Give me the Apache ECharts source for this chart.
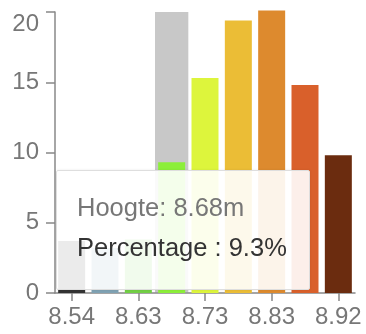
<!DOCTYPE html>
<html>
<head>
<meta charset="utf-8">
<script src="https://cdn.jsdelivr.net/npm/echarts@6/dist/echarts.min.js"></script>
<style>
  html, body { margin: 0; padding: 0; background: #fff; }
  #chart { width: 366px; height: 334px; }
</style>
</head>
<body>
<div id="chart"></div>
<script>
// height classes (m) and share of measurements (%)
const heights = ["8.54", "8.59", "8.63", "8.68", "8.73", "8.78", "8.83", "8.87", "8.92"]
const percentages = [3.7, 3.2, 3.8, 9.3, 15.3, 19.4, 20.1, 14.8, 9.8]
const barColors = ["#333333", "#7fa2b3", "#72cf45", "#8cef3a", "#ddf53c", "#ebbd36", "#dd8a2e", "#d9602b", "#6b2c0f"]
const yTicks = [0, 5, 10, 15, 20]

const font = '"Liberation Sans", Arial, sans-serif'
const chart = echarts.init(document.getElementById("chart"), null, { renderer: "canvas" })

chart.setOption({
  animation: false,
  grid: { left: 55, right: 11, top: 12, bottom: 41, containLabel: false },
  tooltip: {
    trigger: "axis",
    alwaysShowContent: true,
    transitionDuration: 0,
    axisPointer: { type: "shadow", z: 1, shadowStyle: { color: "rgba(150,150,150,0.52)" } },
    position: [56, 170],
    padding: 0,
    backgroundColor: "rgba(255,255,255,0.9)",
    borderColor: "#dedede",
    borderWidth: 1,
    extraCssText: "box-shadow:0 0 3px rgba(0,0,0,0.08);border-radius:2px;",
    formatter: (params) => {
      const p = params[0]
      return '<div style="width:252px;height:118px;box-sizing:border-box;padding:16px 0 0 20px;font-family:' +
        "'Liberation Sans',Arial,sans-serif" + ';font-size:25.5px;line-height:40px;">' +
        '<div style="color:#777">Hoogte: ' + p.name + 'm</div>' +
        '<div style="color:#333">Percentage : ' + p.value + '%</div></div>'
    }
  },
  xAxis: {
    type: "category",
    data: heights,
    axisLine: { lineStyle: { color: "#888", width: 1.5 } },
    axisTick: { show: true, alignWithLabel: true, interval: 1, length: 8, lineStyle: { color: "#888", width: 1.5 } },
    axisLabel: { interval: 1, color: "#777", fontSize: 24, fontFamily: font, margin: 12 }
  },
  yAxis: {
    type: "value",
    min: yTicks[0],
    max: yTicks[yTicks.length - 1],
    interval: 5,
    splitLine: { show: false },
    axisLine: { show: true, lineStyle: { color: "#888", width: 1.5 } },
    axisTick: { show: true, inside: false, length: 9, lineStyle: { color: "#888", width: 1.5 } },
    axisLabel: {
      color: "#777", fontSize: 24, fontFamily: font, margin: 16,
      verticalAlignMaxLabel: "top"
    }
  },
  series: [{
    type: "bar",
    barWidth: 27,
    clip: false,
    data: percentages.map((v, i) => ({ value: v, itemStyle: { color: barColors[i] } })),
    emphasis: { disabled: true }
  }]
})

chart.dispatchAction({ type: "showTip", seriesIndex: 0, dataIndex: 3 })
window.addEventListener("resize", () => chart.resize())
</script>
</body>
</html>
